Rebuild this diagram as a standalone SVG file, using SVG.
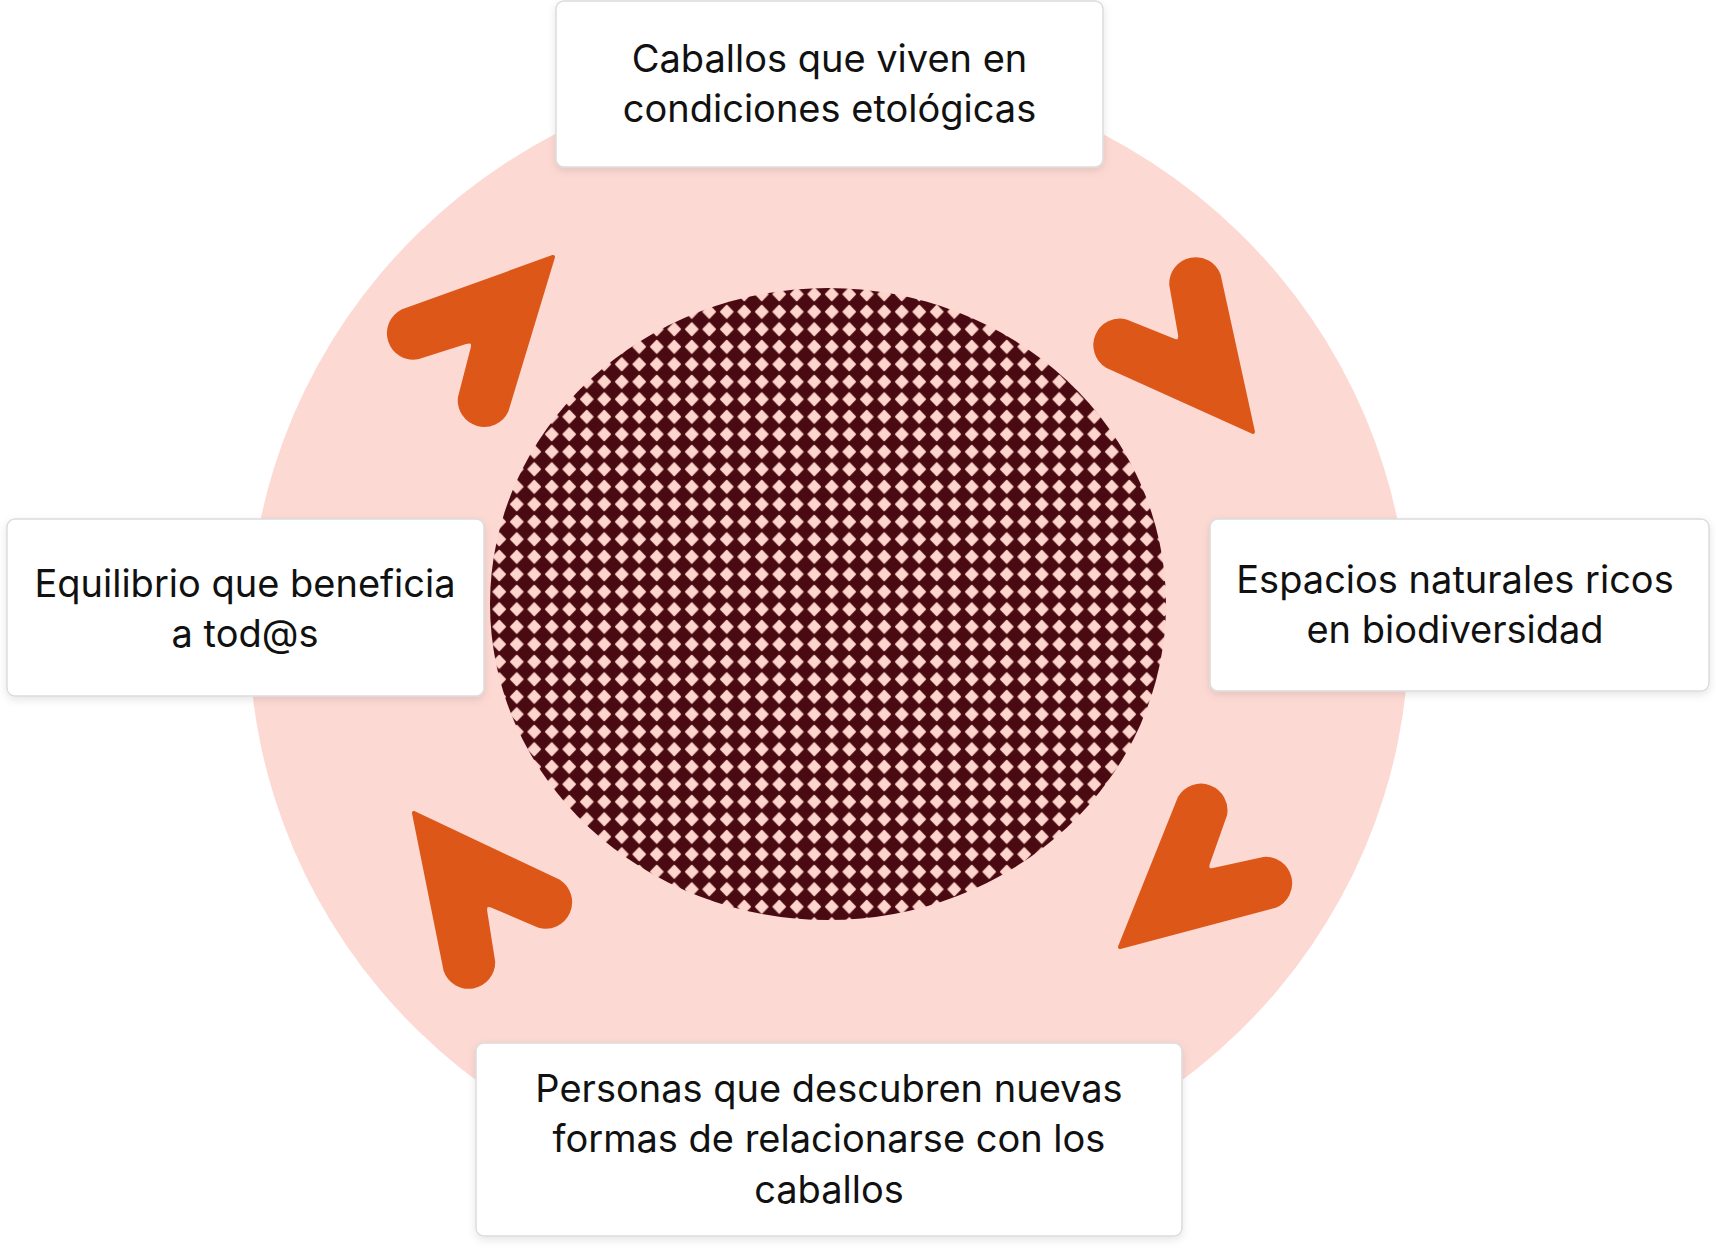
<svg xmlns="http://www.w3.org/2000/svg" xmlns:xlink="http://www.w3.org/1999/xlink" width="1716" height="1248" viewBox="0 0 1716 1248">
  <style>
    .box { fill: #ffffff; stroke: #dcdcdc; stroke-width: 1.5; filter: url(#shadow); }
    .lbl { font-family: Inter, "Liberation Sans", sans-serif; font-size: 38px; fill: #111111; text-anchor: middle; }
    .chev { fill: #DC5718; stroke: #DC5718; stroke-width: 4; stroke-linejoin: round; }
  </style>
  <defs>
    <filter id="shadow" x="-10%" y="-10%" width="120%" height="130%">
      <feDropShadow dx="0" dy="3" stdDeviation="4" flood-color="#000000" flood-opacity="0.10"/>
    </filter>
    <pattern id="dots" patternUnits="userSpaceOnUse" x="508" y="303" width="17.5" height="17.5">
      <rect width="17.5" height="17.5" fill="#4A0A12"/>
      <polygon points="8.75,2.6 14.8,8.75 8.75,14.9 2.7,8.75" fill="#FDD5CC" stroke="#FDD5CC" stroke-width="1.6" stroke-linejoin="round"/>
    </pattern>
    <path id="chevron" d="M 0,0 L 72,143.4 A 24.5 24.5 0 0 1 29.2,166 L 4.8,122 Q 0,113.5 -4.8,122 L -29.2,166 A 24.5 24.5 0 0 1 -72,143.4 Z"/>
  </defs>

  <g id="background">
    <ellipse cx="829" cy="632" rx="580" ry="565" fill="#FDD9D3"/>
    <ellipse cx="828" cy="604" rx="338" ry="316" fill="url(#dots)"/>
  </g>

  <g id="connectors">
    <use xlink:href="#chevron" href="#chevron" class="chev" transform="translate(553,257) rotate(43.5)"/>
    <use xlink:href="#chevron" href="#chevron" class="chev" transform="translate(1253,432) rotate(141)"/>
    <use xlink:href="#chevron" href="#chevron" class="chev" transform="translate(1120,947) rotate(228.5)"/>
    <use xlink:href="#chevron" href="#chevron" class="chev" transform="translate(414,813) rotate(-38)"/>
  </g>

  <g id="node-top">
    <rect class="box" x="556" y="1" width="547" height="166" rx="8"/>
    <text class="lbl" x="829.5" y="72">Caballos que viven en</text>
    <text class="lbl" x="829.5" y="122">condiciones etológicas</text>
  </g>

  <g id="node-right">
    <rect class="box" x="1210" y="519" width="499" height="172" rx="8"/>
    <text class="lbl" x="1455" y="593">Espacios naturales ricos</text>
    <text class="lbl" x="1455" y="643">en biodiversidad</text>
  </g>

  <g id="node-bottom">
    <rect class="box" x="476" y="1043" width="706" height="193" rx="8"/>
    <text class="lbl" x="829" y="1102">Personas que descubren nuevas</text>
    <text class="lbl" x="829" y="1152">formas de relacionarse con los</text>
    <text class="lbl" x="829" y="1203">caballos</text>
  </g>

  <g id="node-left">
    <rect class="box" x="7" y="519" width="477" height="177" rx="8"/>
    <text class="lbl" x="245" y="597">Equilibrio que beneficia</text>
    <text class="lbl" x="245" y="647">a tod@s</text>
  </g>
</svg>
